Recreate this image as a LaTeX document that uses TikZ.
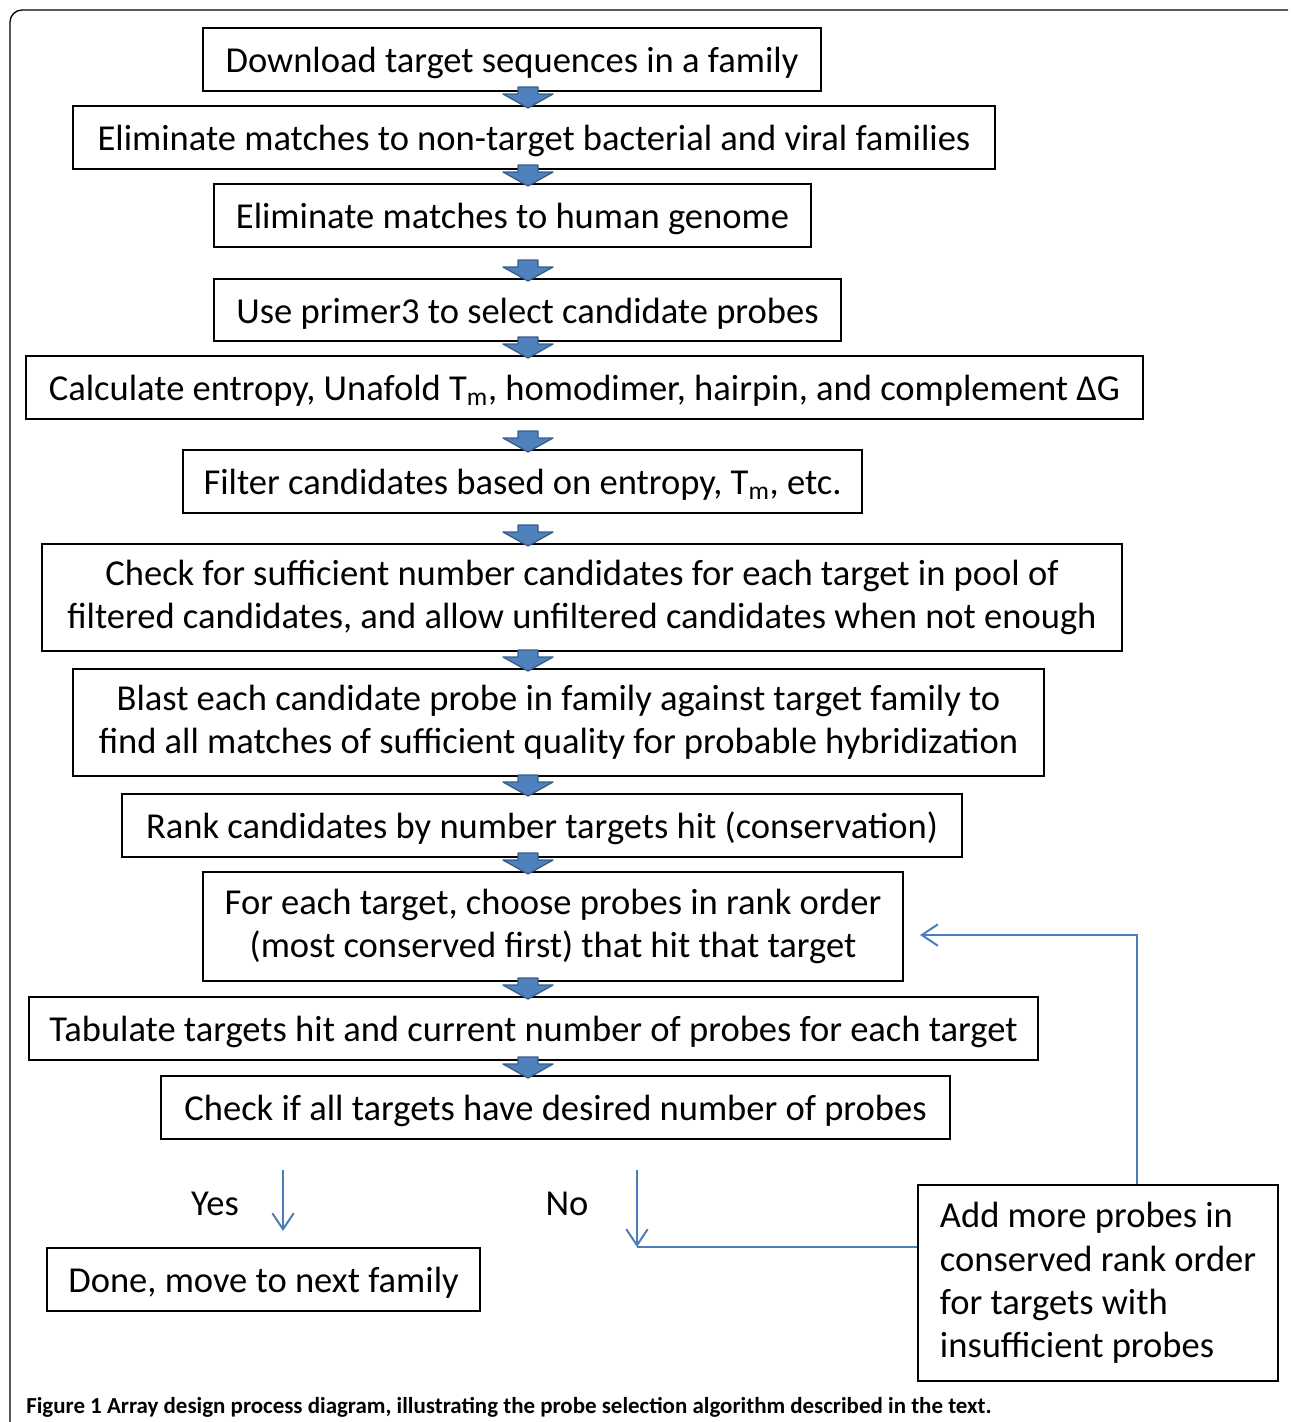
\documentclass[tikz,border=0pt]{standalone}
\usepackage{fontspec}
\setmainfont{Carlito}
\usepackage{tikz}
\usetikzlibrary{positioning,arrows.meta,shadows}

\definecolor{arrowfill}{HTML}{4F81BD}
\definecolor{arrowline}{HTML}{385D8A}
\definecolor{loopblue}{HTML}{4A7EBB}
\newcommand\px{0.75pt}

\tikzset{
  stepbox/.style={draw, line width=1.5pt, fill=white, inner sep=0pt, align=center,
    execute at begin node={\rule{0pt}{24pt}},
    drop shadow={shadow xshift=1pt, shadow yshift=-1pt, fill=gray!60, opacity=1}},
  blockarr/.style={fill=arrowfill, draw=arrowline, line width=1pt, line join=round},
  flow/.style={draw=loopblue, line width=1.5pt},
  flowarr/.style={flow, -{Straight Barb[length=12pt,width=16pt]}},
}

\begin{document}
\begin{tikzpicture}[x=0.75pt, y=-0.75pt, font=\fontsize{27.4}{32.5}\selectfont]
  \useasboundingbox (0,0) rectangle (1290,1422);
  % page frame
  \draw[line width=1pt, rounded corners=9pt] (10,1422) -- (10,10) -- (1288,10);

  % Process steps
  \node[stepbox, minimum width=618*\px, minimum height=63*\px] (dl) at (512,59.5) {Download target sequences in a family};
  \node[stepbox, minimum width=922*\px, minimum height=63*\px] (nontarget) at (534,137.5) {Eliminate matches to non-target bacterial and viral families};
  \node[stepbox, minimum width=597*\px, minimum height=63*\px] (human) at (512.5,215.5) {Eliminate matches to human genome};
  \node[stepbox, minimum width=627*\px, minimum height=62*\px] (primer) at (527.5,310) {Use primer3 to select candidate probes};
  \node[stepbox, minimum width=1117*\px, minimum height=63*\px] (entropy) at (584.5,387.5) {Calculate entropy, Unafold T\textsubscript{m}, homodimer, hairpin, and complement ΔG};
  \node[stepbox, minimum width=679*\px, minimum height=63*\px] (filter) at (522.5,481.5) {Filter candidates based on entropy, T\textsubscript{m}, etc.};
  \node[stepbox, minimum width=1080*\px, minimum height=107*\px] (suff) at (582,597.5) {Check for sufficient number candidates for each target in pool of\\filtered candidates, and allow unfiltered candidates when not enough};
  \node[stepbox, minimum width=971*\px, minimum height=107*\px] (blast) at (558.5,722.5) {Blast each candidate probe in family against target family to\\find all matches of sufficient quality for probable hybridization};
  \node[stepbox, minimum width=840*\px, minimum height=63*\px] (rank) at (542,825.5) {Rank candidates by number targets hit (conservation)};
  \node[stepbox, minimum width=700*\px, minimum height=109*\px] (choose) at (553,926.5) {For each target, choose probes in rank order\\(most conserved first) that hit that target};
  \node[stepbox, minimum width=1009*\px, minimum height=63*\px] (tab) at (533.5,1028.5) {Tabulate targets hit and current number of probes for each target};
  \node[stepbox, minimum width=789*\px, minimum height=63*\px] (check) at (555.5,1107.5) {Check if all targets have desired number of probes};
  \node[stepbox, minimum width=433*\px, minimum height=63*\px] (done) at (263.5,1279.5) {Done, move to next family};
  \node[stepbox, minimum width=360*\px, minimum height=196*\px, align=left] (more) at (1098,1283) {Add more probes in\\conserved rank order\\for targets with\\insufficient probes};

  % Block arrows between the steps, fixed on the arrow axis
  \coordinate (ax) at (528,0);
  \foreach \b in {nontarget,human,primer,entropy,filter,suff,blast,rank,choose,tab,check} {
    \path[blockarr] (\b.north -| ax) ++(-10,-18) -- ++(20,0) -- ++(0,7) -- ++(15,0)
      -- ++(-25,14) -- ++(-25,-14) -- ++(15,0) -- cycle;
  }

  % Decision
  \node (yes) at (215,1204) {Yes};
  \node (no) at (567,1204) {No};
  \coordinate (yestop) at (283,1170);
  \coordinate (yesend) at (283,1231);
  \coordinate (notop) at (637,1170);
  \coordinate (noend) at (637,1247);
  \draw[flowarr] (yestop) -- (yesend);
  \draw[flowarr] (notop) -- (noend);
  \draw[flow] (noend) -- (noend -| more.west);

  % Loop back
  \coordinate (loopup) at (1137,935);
  \coordinate (loopin) at (920,935);
  \draw[flowarr] (loopup |- more.north) -- (loopup) -- (loopin);

  % Caption
  \node[anchor=base west, inner sep=0pt, font=\fontsize{17.2}{20}\selectfont\bfseries] (cap) at (26,1413)
    {Figure 1 Array design process diagram, illustrating the probe selection algorithm described in the text.};
\end{tikzpicture}
\end{document}
